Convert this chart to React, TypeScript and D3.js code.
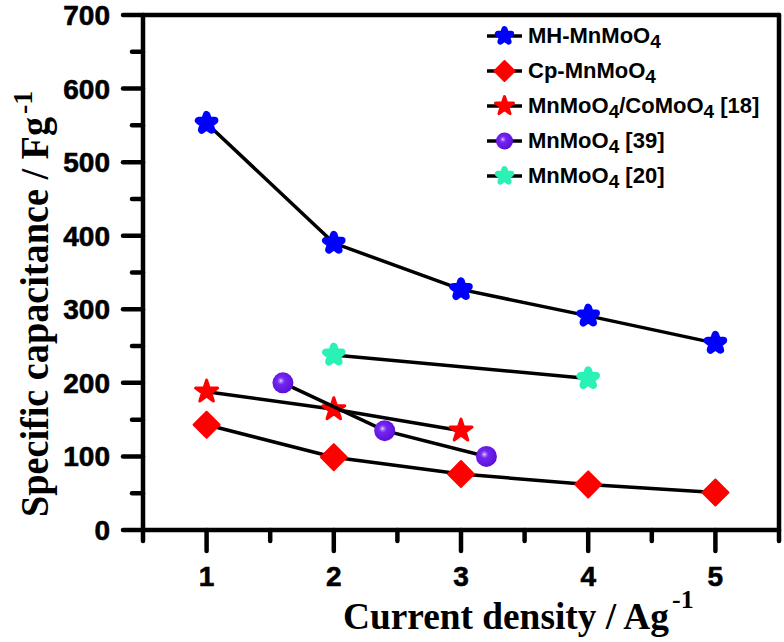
import React from "react";
import * as d3 from "d3";

const xTicks = [1, 2, 3, 4, 5];
const yTicks = [0, 100, 200, 300, 400, 500, 600, 700];

const mhX = [1, 2, 3, 4, 5];
const mhY = [553, 390, 327, 291, 254];
const cpX = [1, 2, 3, 4, 5];
const cpY = [143, 99, 76, 62, 51];
const coX = [1, 2, 3];
const coY = [188, 164, 135];
const r39X = [1.6, 2.4, 3.2];
const r39Y = [200, 135, 100];
const r20X = [2, 4];
const r20Y = [238, 206];

const legendLabels = [
  { main: "MH-MnMoO", sub: "4", rest: "" },
  { main: "Cp-MnMoO", sub: "4", rest: "" },
  { main: "MnMoO", sub: "4", rest: "/CoMoO", sub2: "4", rest2: " [18]" },
  { main: "MnMoO", sub: "4", rest: " [39]" },
  { main: "MnMoO", sub: "4", rest: " [20]" },
];

const W = 784;
const H = 642;
const left = 143;
const right = 779;
const top = 15;
const bottom = 530;

const x = d3.scaleLinear().domain([0.5, 5.5]).range([left, right]);
const y = d3.scaleLinear().domain([0, 700]).range([bottom, top]);

const BLUE = "#0000ff";
const RED = "#ff0000";
const CYAN = "#2af2b6";

const starRound = d3.symbol().type(d3.symbolStar).size(80)();
const starSharp = d3.symbol().type(d3.symbolStar).size(150)();
const square = d3.symbol().type(d3.symbolSquare).size(340)();
const starRoundL = d3.symbol().type(d3.symbolStar).size(55)();
const squareL = d3.symbol().type(d3.symbolSquare).size(200)();
const starSharpL = d3.symbol().type(d3.symbolStar).size(100)();

type Kind = "mh" | "cp" | "co" | "r39" | "r20";

function Marker({ kind, cx, cy, legend }: { kind: Kind; cx: number; cy: number; legend?: boolean }) {
  const t = `translate(${cx},${cy})`;
  if (kind === "mh" || kind === "r20") {
    const c = kind === "mh" ? BLUE : CYAN;
    return (
      <path
        d={legend ? starRoundL : starRound}
        transform={t}
        fill={c}
        stroke={c}
        strokeWidth={legend ? 6 : 7.5}
        strokeLinejoin="round"
      />
    );
  }
  if (kind === "cp") {
    return (
      <path
        d={legend ? squareL : square}
        transform={`${t} rotate(45)`}
        fill={RED}
        stroke={RED}
        strokeWidth={2}
        strokeLinejoin="round"
      />
    );
  }
  if (kind === "co") {
    return (
      <path
        d={legend ? starSharpL : starSharp}
        transform={t}
        fill={RED}
        stroke={RED}
        strokeWidth={3}
        strokeLinejoin="round"
      />
    );
  }
  return <circle cx={cx} cy={cy} r={legend ? 8.5 : 10.5} fill="url(#sphereGrad)" />;
}

function Series({ xs, ys, kind }: { xs: number[]; ys: number[]; kind: Kind }) {
  const pts: [number, number][] = xs.map((v, i) => [x(v), y(ys[i])]);
  const line = d3.line()(pts) || "";
  return (
    <g>
      <path d={line} fill="none" stroke="#000" strokeWidth={3.5} />
      {pts.map((p, i) => (
        <Marker key={i} kind={kind} cx={p[0]} cy={p[1]} />
      ))}
    </g>
  );
}

export default function App() {
  const xMinor = d3.range(0.5, 5.51, 1);
  const yMinor = d3.range(50, 700, 100);
  const kinds: Kind[] = ["mh", "cp", "co", "r39", "r20"];
  const legX0 = 487;
  const legX1 = 522;
  const legTextX = 528;
  const legY0 = 36;
  const legDy = 35;
  return (
    <svg width={W} height={H} style={{ display: "block", position: "absolute", left: 0, top: 0 }}>
      <defs>
        <radialGradient id="sphereGrad" cx="0.42" cy="0.42" r="0.6" fx="0.4" fy="0.4">
          <stop offset="0" stopColor="#ffffff" />
          <stop offset="0.08" stopColor="#b78cff" />
          <stop offset="0.3" stopColor="#7426f2" />
          <stop offset="1" stopColor="#5a0fd6" />
        </radialGradient>
      </defs>
      <rect width={W} height={H} fill="#fff" />
      <Series xs={mhX} ys={mhY} kind="mh" />
      <Series xs={cpX} ys={cpY} kind="cp" />
      <Series xs={coX} ys={coY} kind="co" />
      <Series xs={r39X} ys={r39Y} kind="r39" />
      <Series xs={r20X} ys={r20Y} kind="r20" />

      <g stroke="#000" strokeWidth={4.5} fill="none" strokeLinecap="round">
        <line x1={left} y1={top} x2={right} y2={top} />
        <line x1={left} y1={bottom} x2={right} y2={bottom} />
        <line x1={left} y1={top} x2={left} y2={bottom} />
        <line x1={right} y1={top} x2={right} y2={bottom} />
        {xTicks.map((t) => (
          <line key={"xt" + t} x1={x(t)} y1={bottom} x2={x(t)} y2={bottom + 21} />
        ))}
        {xMinor.map((t) => (
          <line key={"xm" + t} x1={x(t)} y1={bottom} x2={x(t)} y2={bottom + 11} />
        ))}
        {yTicks.map((t) => (
          <line key={"yt" + t} x1={left - 20} y1={y(t)} x2={left} y2={y(t)} />
        ))}
        {yMinor.map((t) => (
          <line key={"ym" + t} x1={left - 11} y1={y(t)} x2={left} y2={y(t)} />
        ))}
      </g>

      <g
        fontFamily="'Liberation Sans', Arial, sans-serif"
        fontWeight="bold"
        fontSize={28}
        fill="#000"
        stroke="#000"
        strokeWidth={0.6}
      >
        {xTicks.map((t) => (
          <text key={"xl" + t} x={x(t)} y={586} textAnchor="middle">
            {t}
          </text>
        ))}
        {yTicks.map((t) => (
          <text key={"yl" + t} x={110} y={y(t) + 10} textAnchor="end">
            {t}
          </text>
        ))}
      </g>

      <text
        x={343}
        y={629}
        fontFamily="'Liberation Serif', 'Times New Roman', serif"
        fontWeight="bold"
        fontSize={38}
        textLength={326}
        lengthAdjust="spacingAndGlyphs"
      >
        Current density / Ag
      </text>
      <text x={672} y={608} fontFamily="'Liberation Serif', serif" fontWeight="bold" fontSize={26}>
        -1
      </text>
      <g transform="translate(48,517) rotate(-90)">
        <text
          x={0}
          y={0}
          fontFamily="'Liberation Serif', 'Times New Roman', serif"
          fontWeight="bold"
          fontSize={40}
          textLength={400}
          lengthAdjust="spacingAndGlyphs"
        >
          Specific capacitance / Fg
        </text>
        <text x={403} y={-16} fontFamily="'Liberation Serif', serif" fontWeight="bold" fontSize={28}>
          -1
        </text>
      </g>

      {kinds.map((k, i) => {
        const ly = legY0 + i * legDy;
        const lab = legendLabels[i];
        return (
          <g key={"lg" + k}>
            <line x1={legX0} y1={ly} x2={legX1} y2={ly} stroke="#000" strokeWidth={3.5} />
            <Marker kind={k} cx={(legX0 + legX1) / 2} cy={ly} legend />
            <text
              x={legTextX}
              y={ly + 7}
              fontFamily="'Liberation Sans', Arial, sans-serif"
              fontWeight="bold"
              fontSize={22}
            >
              {lab.main}
              <tspan dy={5} fontSize={19}>{lab.sub}</tspan>
              {lab.sub2 ? (
                <>
                  <tspan dy={-5}>{lab.rest}</tspan>
                  <tspan dy={5} fontSize={19}>{lab.sub2}</tspan>
                  <tspan dy={-5}>{lab.rest2}</tspan>
                </>
              ) : lab.rest ? (
                <tspan dy={-5}>{lab.rest}</tspan>
              ) : null}
            </text>
          </g>
        );
      })}
    </svg>
  );
}
